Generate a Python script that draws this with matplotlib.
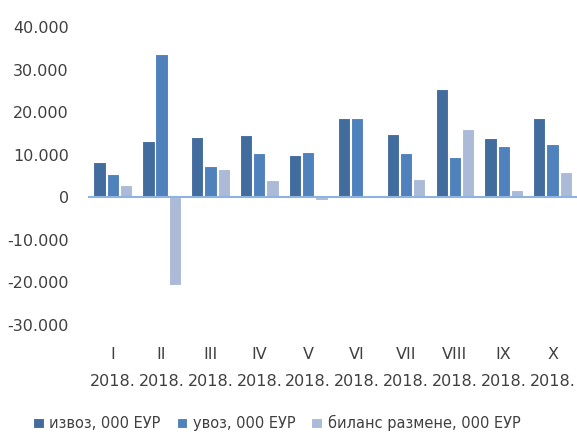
import numpy as np
import matplotlib.pyplot as plt
from matplotlib.ticker import FuncFormatter

plt.rcParams['font.family'] = ['DejaVu Sans Condensed', 'DejaVu Sans']

# подаци
meseci = ['I', 'II', 'III', 'IV', 'V', 'VI', 'VII', 'VIII', 'IX', 'X']
izvoz = [8380, 13150, 14100, 14550, 10020, 18620, 14950, 25500, 13930, 18620]
uvoz = [5400, 33700, 7280, 10330, 10560, 18700, 10400, 9390, 11970, 12520]
bilans = [2980, -20600, 6570, 3990, -700, -80, 4380, 15960, 1800, 5950]
serije = ['извоз, 000 ЕУР', 'увоз, 000 ЕУР', 'биланс размене, 000 ЕУР']
boje = ['#426B9E', '#4F81BD', '#AABAD7']

fig = plt.figure(figsize=(5.77, 4.44), dpi=100)
ax = fig.add_axes([0.153, 0.268, 0.847, 0.671])

x = np.arange(len(meseci))
w = 0.25
for i, (vals, lab, c) in enumerate(zip([izvoz, uvoz, bilans], serije, boje)):
    ax.bar(x + (i - 1) * 0.27, vals, w, color=c, edgecolor='white',
           linewidth=0.8, label=lab)

ax.axhline(0, color='#8DB3E2', linewidth=1.5)
ax.set_xlim(-0.5, len(meseci) - 0.5)
ax.set_ylim(-30000, 40000)
ax.set_yticks(range(-30000, 40001, 10000))
ax.yaxis.set_major_formatter(FuncFormatter(lambda v, p: f'{int(v):,}'.replace(',', '.')))
ax.set_xticks(x)
ax.set_xticklabels([m + '\n2018.' for m in meseci], linespacing=1.95)

for s in ax.spines.values():
    s.set_visible(False)
ax.tick_params(axis='both', length=0, labelsize=11.5, colors='#404040')
ax.tick_params(axis='x', pad=16)
ax.tick_params(axis='y', pad=14)

fig.legend(loc='lower left', bbox_to_anchor=(0.035, 0.0), ncol=3, frameon=False,
           fontsize=10.5, handlelength=0.7, handleheight=0.7, handletextpad=0.4,
           columnspacing=1.1, labelcolor='#404040')

plt.savefig('out.png', dpi=100)
